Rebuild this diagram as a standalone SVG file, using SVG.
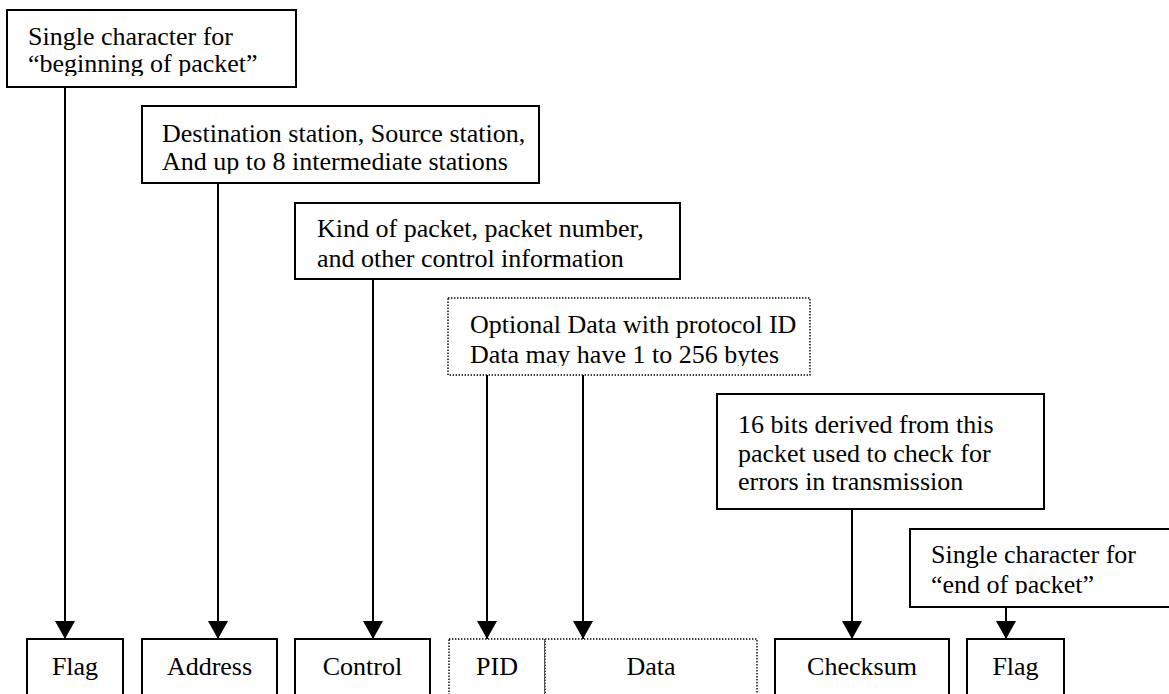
<svg xmlns="http://www.w3.org/2000/svg" width="1169" height="694" viewBox="0 0 1169 694">
<style>
.box{fill:#fff;stroke:#000;stroke-width:2}
.dot{fill:#fff;stroke:#000;stroke-width:1.4;stroke-dasharray:1.4 1.6}
.t{font-family:'Liberation Serif','Times New Roman','DejaVu Serif',serif;font-size:26px;fill:#000}
.c{text-anchor:middle}
.con line{stroke:#000;stroke-width:2;marker-end:url(#ah)}
</style>
<defs>
<marker id="ah" markerUnits="userSpaceOnUse" markerWidth="20" markerHeight="18" viewBox="0 0 20 18" refX="10" refY="18" orient="0">
<path d="M0,0 L20,0 L10,18 Z" fill="#000"/>
</marker>
<clipPath id="c1"><rect x="7" y="10" width="289" height="66"/></clipPath>
<clipPath id="c2"><rect x="142" y="106" width="397" height="68"/></clipPath>
<clipPath id="c4"><rect x="448" y="298" width="362" height="68"/></clipPath>
<clipPath id="c6"><rect x="910" y="529" width="259" height="65"/></clipPath>
</defs>
<rect width="1169" height="694" fill="#fff"/>

<g id="note-begin">
<rect class="box" x="7" y="10" width="289" height="77"/>
<g clip-path="url(#c1)">
<text class="t" x="28" y="45">Single character for</text>
<text class="t" x="28" y="72">“beginning of packet”</text>
</g>
</g>

<g id="note-address">
<rect class="box" x="142" y="106" width="397" height="77"/>
<g clip-path="url(#c2)">
<text class="t" x="162" y="142">Destination station, Source station,</text>
<text class="t" x="162" y="170">And up to 8 intermediate stations</text>
</g>
</g>

<g id="note-control">
<rect class="box" x="295" y="203" width="385" height="76"/>
<text class="t" x="317" y="237">Kind of packet, packet number,</text>
<text class="t" x="317" y="267">and other control information</text>
</g>

<g id="note-data">
<rect class="dot" x="448" y="298" width="362" height="77"/>
<g clip-path="url(#c4)">
<text class="t" x="470" y="333">Optional Data with protocol ID</text>
<text class="t" x="470" y="363">Data may have 1 to 256 bytes</text>
</g>
</g>

<g id="note-checksum">
<rect class="box" x="717" y="394" width="327" height="115"/>
<text class="t" x="738" y="433">16 bits derived from this</text>
<text class="t" x="738" y="462">packet used to check for</text>
<text class="t" x="738" y="490">errors in transmission</text>
</g>

<g id="note-end">
<rect class="box" x="910" y="529" width="264" height="78"/>
<g clip-path="url(#c6)">
<text class="t" x="931" y="563">Single character for</text>
<text class="t" x="931" y="593">“end of packet”</text>
</g>
</g>

<g id="field-flag1">
<rect class="box" x="27" y="639" width="96" height="70"/>
<text class="t c" x="75" y="675">Flag</text>
</g>
<g id="field-address">
<rect class="box" x="142" y="639" width="135" height="70"/>
<text class="t c" x="209.5" y="675">Address</text>
</g>
<g id="field-control">
<rect class="box" x="295" y="639" width="135" height="70"/>
<text class="t c" x="362.5" y="675">Control</text>
</g>
<g id="field-pid">
<rect class="dot" x="449" y="639" width="96" height="70"/>
<text class="t c" x="497" y="675">PID</text>
</g>
<g id="field-data">
<rect class="dot" x="545" y="639" width="212" height="70"/>
<text class="t c" x="651" y="675">Data</text>
</g>
<g id="field-checksum">
<rect class="box" x="775" y="639" width="174" height="70"/>
<text class="t c" x="862" y="675">Checksum</text>
</g>
<g id="field-flag2">
<rect class="box" x="967" y="639" width="97" height="70"/>
<text class="t c" x="1015.5" y="675">Flag</text>
</g>

<g id="connectors" class="con">
<line x1="65" y1="87" x2="65" y2="639"/>
<line x1="218" y1="183" x2="218" y2="639"/>
<line x1="373" y1="279" x2="373" y2="639"/>
<line x1="487" y1="375" x2="487" y2="639"/>
<line x1="583" y1="375" x2="583" y2="639"/>
<line x1="852" y1="509" x2="852" y2="639"/>
<line x1="1006" y1="607" x2="1006" y2="639"/>
</g>
</svg>
